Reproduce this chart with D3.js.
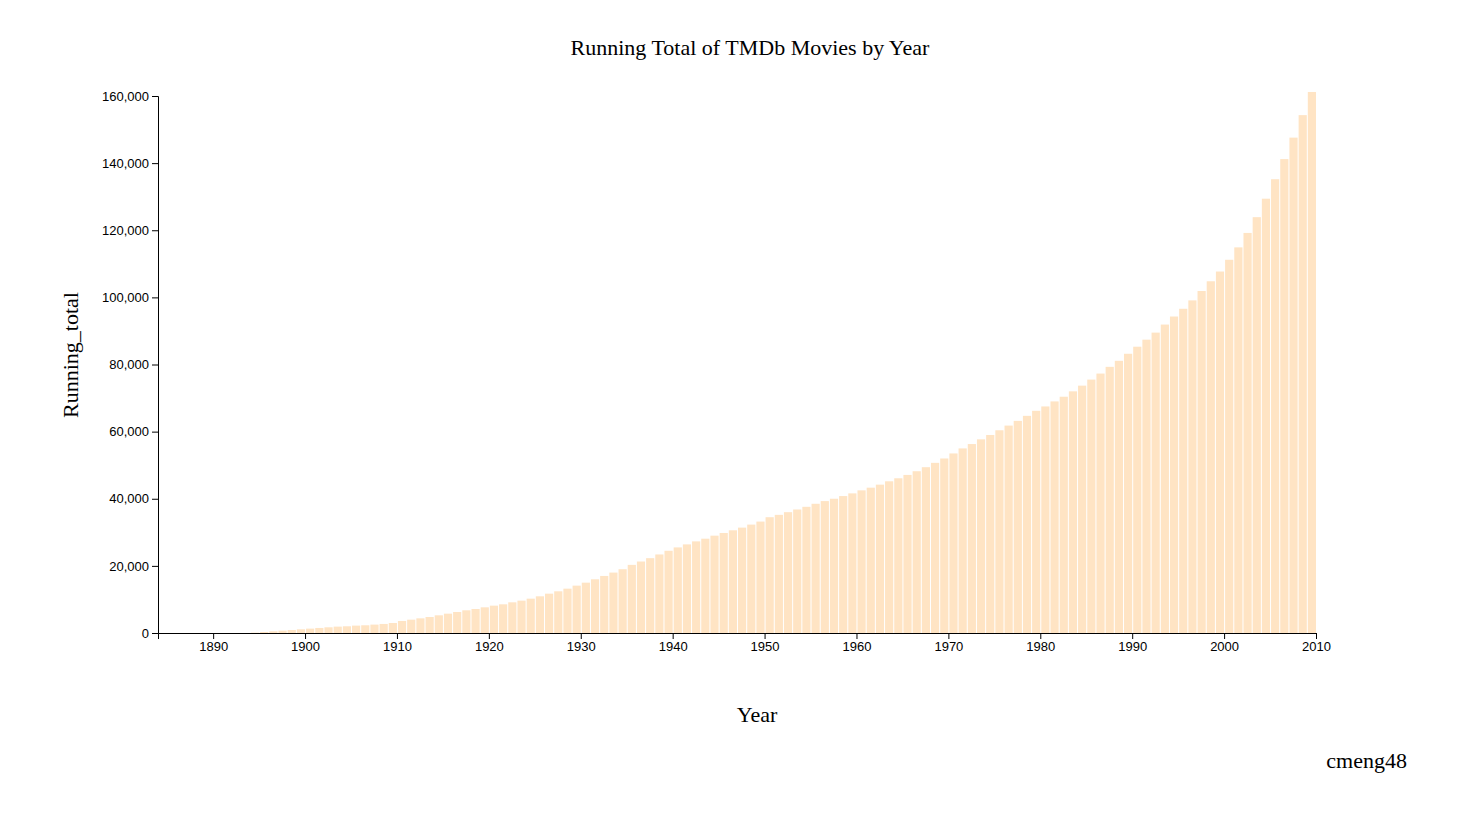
<!DOCTYPE html>
<html>
<head>
<meta charset="utf-8">
<script src="https://d3js.org/d3.v7.min.js"></script>
<style>
  body { margin: 0; background: #fff; }
  .tick text { font-family: Arial, "Liberation Sans", sans-serif; font-size: 13px; }
</style>
</head>
<body>
<div id="dataviz"></div>
<script>
// years shown on the chart
const years = d3.range(1884, 2011);

// running totals (1884..2010)
const totals = [
    0, 0, 0, 0, 0, 0, 0, 0, 0, 0, 0, 100,            // 1884-1895
    300, 500, 700, 900, 1100,                        // 1896-1900
    1300, 1500, 1700, 1900, 2000, 2200, 2300, 2500, 2700, 2980, // 1901-1910
    3580, 3970, 4370, 4770, 5270, 5760, 6260, 6760, 7150, 7650, // 1911-1920
    8150, 8550, 9140, 9640, 10230, 10930, 11720, 12420, 13210, 14110, // 1921-1930
    15000, 16000, 17000, 18000, 19000, 20300, 21300, 22300, 23400, 24500, // 1931-1940
    25500, 26400, 27300, 28100, 29000, 29800, 30600, 31400, 32300, 33200, // 1941-1950
    34500, 35200, 36000, 36800, 37600, 38500, 39300, 40000, 40800, 41600, // 1951-1960
    42500, 43300, 44200, 45200, 46100, 47100, 48200, 49400, 50700, 52000, // 1961-1970
    53500, 55000, 56300, 57700, 59000, 60400, 61800, 63200, 64700, 66200, // 1971-1980
    67500, 69000, 70400, 72000, 73700, 75500, 77300, 79300, 81100, 83200, // 1981-1990
    85300, 87400, 89500, 91900, 94300, 96600, 99100, 101900, 104800, 107700, // 1991-2000
    111200, 114900, 119200, 123900, 129400, 135200, 141200, 147600, 154300, 161200 // 2001-2010
];

const yTicks = [0, 20000, 40000, 60000, 80000, 100000, 120000, 140000, 160000];
const xTicks = d3.range(1890, 2011, 10);

const margin = { top: 96, right: 164, bottom: 190, left: 158 },
    width = 1480 - margin.left - margin.right,
    height = 823 - margin.top - margin.bottom;

const svg = d3.select("#dataviz")
    .append("svg")
    .attr("width", 1480)
    .attr("height", 823);

const g = svg.append("g")
    .attr("transform", `translate(${margin.left}, ${margin.top})`);

const x = d3.scaleLinear().domain([1884, 2010]).range([0, width]);
const y = d3.scaleLinear().domain([0, 160000]).range([height, 0]);
const step = x(1885) - x(1884);

const data = years.map((yr, i) => ({ year: yr, total: totals[i] }));

// bars end at their year's tick
g.selectAll("rect")
    .data(data.filter(d => d.total > 0))
    .join("rect")
    .attr("x", d => x(d.year) - step + 1)
    .attr("y", d => y(d.total))
    .attr("width", step - 1)
    .attr("height", d => height - y(d.total))
    .style("fill", "#ffe4c4");

g.append("g")
    .attr("transform", `translate(0, ${height})`)
    .call(d3.axisBottom(x).tickValues(xTicks).tickFormat(d3.format("d")));

g.append("g")
    .call(d3.axisLeft(y).tickValues(yTicks).tickFormat(d3.format(",")));

svg.append("text")
    .attr("x", 750).attr("y", 55)
    .attr("text-anchor", "middle")
    .style("font-family", "'Liberation Serif', 'Times New Roman', serif")
    .style("font-size", "22px")
    .text("Running Total of TMDb Movies by Year");

svg.append("text")
    .attr("transform", "translate(78, 355) rotate(-90)")
    .attr("text-anchor", "middle")
    .style("font-family", "'Liberation Serif', 'Times New Roman', serif")
    .style("font-size", "22px")
    .text("Running_total");

svg.append("text")
    .attr("x", 757).attr("y", 722)
    .attr("text-anchor", "middle")
    .style("font-family", "'Liberation Serif', 'Times New Roman', serif")
    .style("font-size", "22px")
    .text("Year");

svg.append("text")
    .attr("x", 1407).attr("y", 768)
    .attr("text-anchor", "end")
    .style("font-family", "'Liberation Serif', 'Times New Roman', serif")
    .style("font-size", "22px")
    .text("cmeng48");
</script>
</body>
</html>
